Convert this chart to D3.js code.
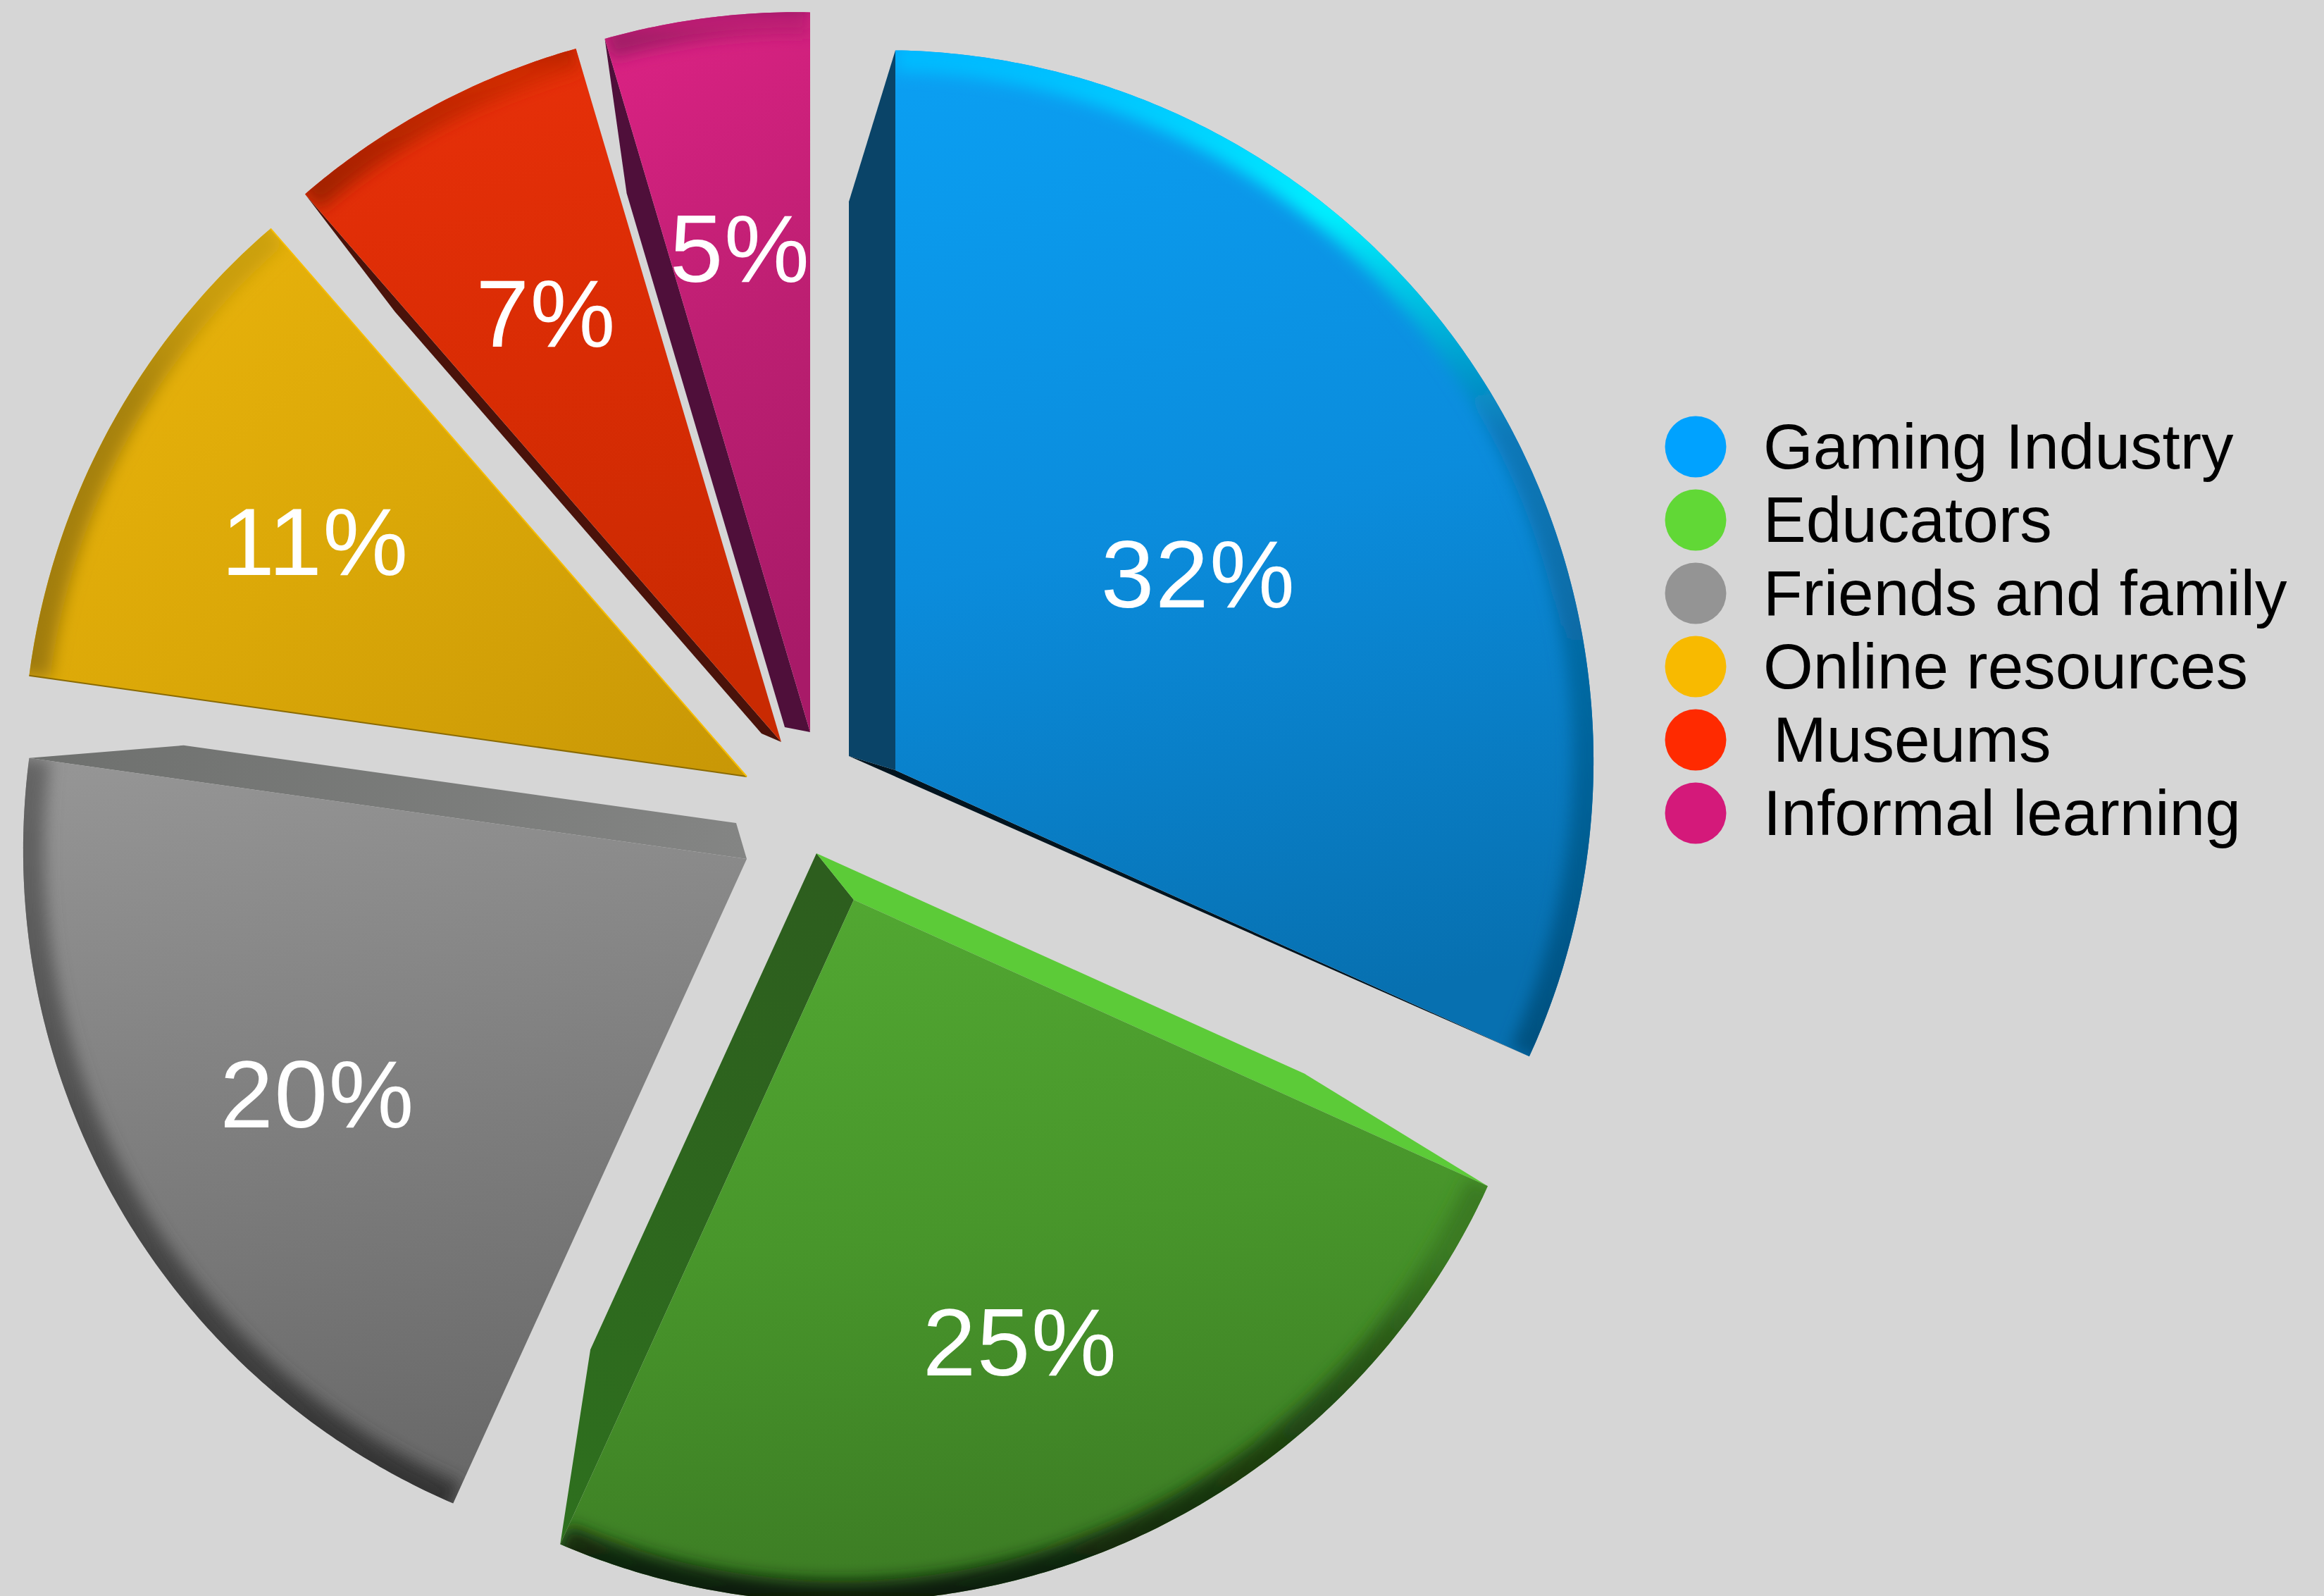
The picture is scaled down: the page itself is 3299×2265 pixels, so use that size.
<!DOCTYPE html>
<html>
<head>
<meta charset="utf-8">
<title>Sources of learning</title>
<script src="https://cdn.jsdelivr.net/npm/d3@7/dist/d3.min.js"></script>
<style>
  html, body { margin: 0; padding: 0; background: #d6d6d6; overflow: hidden; }
  svg { display: block; }
  text { font-family: "Liberation Sans", Arial, sans-serif; }
</style>
</head>
<body>
<script>
// Data
const categories = ["Gaming Industry", "Educators", "Friends and family", "Online resources", "Museums", "Informal learning"];
const shares = [32, 25, 20, 11, 7, 5];

// Legend and slice shading
const legendColors = ["#00a2ff", "#61d836", "#949494", "#f8ba00", "#ff2a00", "#d4197a"];
const faceTop = ["#0b9ff2", "#52a832", "#959595", "#ebb50c", "#e8300a", "#dc2284"];
const faceMid = ["#0b8cdc", "#48962b", "#7f7f7f", "#dba808", "#d92c04", "#bd1f72"];
const faceBottom = ["#0770b0", "#3c7c24", "#696969", "#c89706", "#c92a02", "#a81a68"];
const startSide = ["#0a4468", "#5ccb38", null, null, "#4a120a", "#4f0f3a"];
const endSideApex = ["#02141f", "#2d5e1e", "#848584", null, null, null];
const endSideTip = ["#02141f", "#2e701e", "#6e706e", null, null, null];
const startEdge = [null, null, null, "#8a6a00", null, null];
const endEdge = [null, null, null, "#f6bd00", null, null];
const rimColors = [
  ["#00b8ff", "#00f0ff", "#0878b8", "#04507f"],
  ["#3a7a22", "#3a7a22", "#2a5a18", "#0c1c06"],
  ["#666666", "#5f5f5f", "#555555", "#333333"],
  ["#cda20a", "#c89c08", "#a8830a", "#a07c08"],
  ["#b82300", "#d22a02", "#c42800", "#a02000"],
  ["#8c1660", "#e02488", "#bd1f72", "#a01a66"]
];

// Layout of the exploded slices
const width = 3299, height = 2265;
const pieCenter = [1150, 1160];
const explodeX = [121, 62, -90, -90, -41, 0];
const explodeY = [-67, 117, 59, -58, -107, -121];
const bevelX = [-66, -53, -15, 0, -28, -36];
const bevelY = [-20, -66, -51, 0, -12, -7];
const endKnee = [false, true, true, false, false, false];
const labelRadius = [512, 671, 695, 697, 694, 693];
const kneeAt = 0.77;
const rad = Math.PI / 180;

// The pie is seen slightly from the side: angles are nudged and the radius varies around the rim.
const viewAngle = d3.scaleLinear()
  .domain([0, 115.2, 205.2, 277.2, 316.8, 342, 360])
  .range([0, 114.3, 204.5, 278, 319, 343.5, 360]);
const viewRadius = deg => 1009 + 22 * Math.cos((deg - 305) * rad);

const pie = d3.pie().sort(null).value(d => d)
  .startAngle(0).endAngle(2 * Math.PI);
const arcs = pie(shares);

const svg = d3.select("body").append("svg")
  .attr("width", width).attr("height", height)
  .attr("viewBox", [0, 0, width, height]);
svg.append("rect").attr("width", width).attr("height", height).attr("fill", "#d6d6d6");

const defs = svg.append("defs");
defs.append("filter").attr("id", "rimBlur")
  .attr("filterUnits", "userSpaceOnUse")
  .attr("x", -100).attr("y", -100).attr("width", width + 200).attr("height", height + 200)
  .append("feGaussianBlur").attr("stdDeviation", 11);

const lineGen = d3.line();

function rimPoint(apex, deg) {
  const a = viewAngle(deg);
  const r = viewRadius(a);
  return [apex[0] + r * Math.sin(a * rad), apex[1] - r * Math.cos(a * rad)];
}

arcs.forEach((d, i) => {
  const apex = [pieCenter[0] + explodeX[i], pieCenter[1] + explodeY[i]];
  const a0 = d.startAngle / rad, a1 = d.endAngle / rad;
  const steps = Math.ceil((a1 - a0) * 2);
  const rim = d3.range(steps + 1).map(k => rimPoint(apex, a0 + (a1 - a0) * k / steps));
  const tipA = rim[0], tipB = rim[rim.length - 1];
  const back = [apex[0] + bevelX[i], apex[1] + bevelY[i]];
  const knee = tip => [back[0] + (tip[0] - apex[0]) * kneeAt, back[1] + (tip[1] - apex[1]) * kneeAt];

  const g = svg.append("g").attr("class", "slice");

  // Side walls sit under the face
  if (endSideApex[i]) {
    const wall = defs.append("linearGradient").attr("id", `wall${i}`)
      .attr("gradientUnits", "userSpaceOnUse")
      .attr("x1", apex[0]).attr("y1", apex[1]).attr("x2", tipB[0]).attr("y2", tipB[1]);
    wall.append("stop").attr("offset", 0).attr("stop-color", endSideApex[i]);
    wall.append("stop").attr("offset", 1).attr("stop-color", endSideTip[i]);
    const pts = endKnee[i] ? [apex, tipB, knee(tipB), back] : [apex, tipB, back];
    g.append("path").attr("d", lineGen(pts) + "Z").attr("fill", `url(#wall${i})`);
  }
  if (startSide[i]) {
    g.append("path").attr("d", lineGen([apex, tipA, knee(tipA), back]) + "Z").attr("fill", startSide[i]);
  }

  // Face with a vertical shade
  const face = lineGen([apex, ...rim]) + "Z";
  const shade = defs.append("linearGradient").attr("id", `face${i}`)
    .attr("x1", i === 3 ? 0 : 0.15).attr("y1", 0).attr("x2", i === 3 ? 1 : 0.3).attr("y2", 1);
  [faceTop[i], faceMid[i], faceBottom[i]].forEach((c, k) =>
    shade.append("stop").attr("offset", k / 2).attr("stop-color", c));
  g.append("path").attr("d", face).attr("fill", `url(#face${i})`);

  // Soft rounded rim, clipped to the face
  defs.append("clipPath").attr("id", `clip${i}`).append("path").attr("d", face);
  const ys = d3.extent(rim, p => p[1]);
  const rimShade = defs.append("linearGradient").attr("id", `rim${i}`)
    .attr("gradientUnits", "userSpaceOnUse")
    .attr("x1", 0).attr("x2", 0).attr("y1", ys[0]).attr("y2", ys[1]);
  [0, 0.16, 0.38, 1].forEach((o, k) =>
    rimShade.append("stop").attr("offset", o).attr("stop-color", rimColors[i][k]));
  g.append("g").attr("clip-path", `url(#clip${i})`)
    .append("path").attr("d", lineGen(rim))
    .attr("fill", "none")
    .attr("stroke", `url(#rim${i})`)
    .attr("stroke-width", 60)
    .attr("filter", "url(#rimBlur)");

  // Fine edge lines on the thin slices
  if (startEdge[i]) {
    g.append("path").attr("d", lineGen([apex, tipA])).attr("stroke", startEdge[i]).attr("stroke-width", 2).attr("fill", "none");
  }
  if (endEdge[i]) {
    g.append("path").attr("d", lineGen([apex, tipB])).attr("stroke", endEdge[i]).attr("stroke-width", 2).attr("fill", "none");
  }

  // Percentage along the slice's mid angle
  const mid = viewAngle((a0 + a1) / 2);
  g.append("text")
    .attr("x", apex[0] + labelRadius[i] * Math.sin(mid * rad))
    .attr("y", apex[1] - labelRadius[i] * Math.cos(mid * rad))
    .attr("text-anchor", "middle")
    .attr("dominant-baseline", "central")
    .attr("font-size", 136)
    .attr("letter-spacing", 1.5)
    .attr("fill", "#ffffff")
    .text(`${d.data}%`);
});

// Legend
const legendY = d3.scalePoint().domain(categories).range([634, 1154]);
const legendIndent = d3.scaleOrdinal().domain(categories).range([0, 0, 0, 0, 14, 0]);
const legend = svg.append("g").attr("class", "legend")
  .selectAll("g").data(categories).join("g")
  .attr("transform", c => `translate(0,${legendY(c)})`);
legend.append("circle")
  .attr("cx", 2407).attr("r", 43.5)
  .attr("fill", (c, i) => legendColors[i]);
legend.append("text")
  .attr("x", c => 2503 + legendIndent(c))
  .attr("y", 31)
  .attr("font-size", 91)
  .attr("fill", "#000000")
  .text(c => c);
</script>
</body>
</html>
